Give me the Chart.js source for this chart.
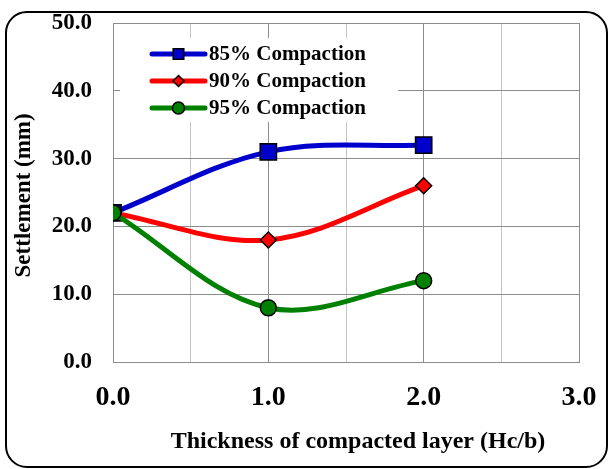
<!DOCTYPE html>
<html>
<head>
<meta charset="utf-8">
<script src="https://cdn.jsdelivr.net/npm/chart.js@4/dist/chart.umd.min.js"></script>
<style>
  html, body { margin: 0; padding: 0; background: #fff; }
  #wrap { position: relative; width: 609px; height: 469px; }
  #frame { position: absolute; left: 5px; top: 11px; width: 599px; height: 453px;
           border: 2px solid #000; border-radius: 22px; pointer-events: none; }
  canvas { position: absolute; left: 0; top: 0; }
</style>
</head>
<body>
<div id="wrap">
  <canvas id="c" width="609" height="469"></canvas>
  <div id="frame"></div>
</div>
<script>
const thickness = [0, 1, 2];
const settle85 = [22, 31, 32];
const settle90 = [22, 18, 26];
const settle95 = [22, 8, 12];
const seriesNames = ['85% Compaction', '90% Compaction', '95% Compaction'];
const xTitle = '    Thickness of compacted layer (Hc/b)';
const yTitle = 'Settlement (mm) ';

const FONT = "'Times New Roman', 'Liberation Serif', serif";

function pts(ys) { return thickness.map((x, i) => ({ x: x, y: ys[i] })); }

function drawMarker(ctx, style, x, y, r, fill) {
  ctx.save();
  ctx.beginPath();
  if (style === 'rect') {
    const s = r * Math.SQRT1_2;
    ctx.rect(x - s, y - s, 2 * s, 2 * s);
  } else if (style === 'rectRot') {
    ctx.moveTo(x, y - r); ctx.lineTo(x + r, y); ctx.lineTo(x, y + r); ctx.lineTo(x - r, y); ctx.closePath();
  } else {
    ctx.arc(x, y, r, 0, Math.PI * 2);
  }
  ctx.fillStyle = fill; ctx.fill();
  ctx.lineWidth = 1.5; ctx.strokeStyle = '#000'; ctx.stroke();
  ctx.restore();
}

const insideLegend = {
  id: 'insideLegend',
  afterDraw(chart) {
    const ctx = chart.ctx;
    ctx.save();
    ctx.fillStyle = '#fff';
    ctx.fillRect(120, 38, 278, 84);
    const rows = [54, 81, 108];
    const legendR = [7.5, 5.5, 6];
    chart.data.datasets.forEach((ds, i) => {
      const y = rows[i];
      ctx.beginPath();
      ctx.lineCap = 'round';
      ctx.lineWidth = 5;
      ctx.strokeStyle = ds.borderColor;
      ctx.moveTo(152, y); ctx.lineTo(205, y); ctx.stroke();
      drawMarker(ctx, ds.pointStyle, 178.5, y, legendR[i], ds.pointBackgroundColor);
      ctx.fillStyle = '#000';
      ctx.font = 'bold 21px ' + FONT;
      ctx.textBaseline = 'middle';
      ctx.textAlign = 'left';
      ctx.fillText(ds.label, 209, y + 1);
    });
    ctx.restore();
  }
};

new Chart(document.getElementById('c'), {
  type: 'line',
  data: {
    datasets: [
      { label: seriesNames[0], data: pts(settle85), borderColor: '#0000CC', pointBackgroundColor: '#0000CC',
        pointStyle: 'rect', pointRadius: 11.5, order: 3 },
      { label: seriesNames[1], data: pts(settle90), borderColor: '#FF0000', pointBackgroundColor: '#FF0000',
        pointStyle: 'rectRot', pointRadius: 8, order: 2 },
      { label: seriesNames[2], data: pts(settle95), borderColor: '#008000', pointBackgroundColor: '#008000',
        pointStyle: 'circle', pointRadius: 8, order: 1 }
    ].map(d => Object.assign({
      borderWidth: 5, tension: 0.35, fill: false, pointBorderColor: '#000', pointBorderWidth: 1.5,
      borderCapStyle: 'round', borderJoinStyle: 'round'
    }, d))
  },
  options: {
    responsive: false,
    animation: false,
    events: [],
    layout: { padding: { top: 23, right: 30, left: 0, bottom: 0 } },
    plugins: { legend: { display: false }, tooltip: { enabled: false } },
    scales: {
      x: {
        type: 'linear', min: 0, max: 3,
        ticks: {
          stepSize: 0.5, color: '#000', padding: 0,
          font: { family: FONT, size: 28, weight: 'bold' },
          callback: v => (Math.abs(v - Math.round(v)) < 1e-9 ? v.toFixed(1) : '')
        },
        grid: {
          drawTicks: true, tickLength: 19, tickColor: 'rgba(0,0,0,0)', lineWidth: 1,
          color: c => (c.tick && Math.abs(c.tick.value - Math.round(c.tick.value)) < 1e-9 ? '#8c8c8c' : '#c4c4c4')
        },
        border: { color: '#8c8c8c', width: 1 },
        title: { display: true, text: xTitle, color: '#000', font: { family: FONT, size: 24, weight: 'bold' },
                 padding: { top: 0, bottom: 13 } },
        afterFit: s => { s.height = 107; }
      },
      y: {
        min: 0, max: 50,
        ticks: { stepSize: 10, color: '#000', padding: 0,
                 font: { family: FONT, size: 23, weight: 'bold' },
                 callback: v => v.toFixed(1) },
        grid: { drawTicks: true, tickLength: 21, tickColor: 'rgba(0,0,0,0)', color: '#8c8c8c', lineWidth: 1 },
        border: { color: '#8c8c8c', width: 1 },
        title: { display: true, text: yTitle, color: '#000', font: { family: FONT, size: 23, weight: 'bold' },
                 padding: { top: 10, bottom: 0 } },
        afterFit: s => { s.width = 113; }
      }
    }
  },
  plugins: [insideLegend]
});
</script>
</body>
</html>
